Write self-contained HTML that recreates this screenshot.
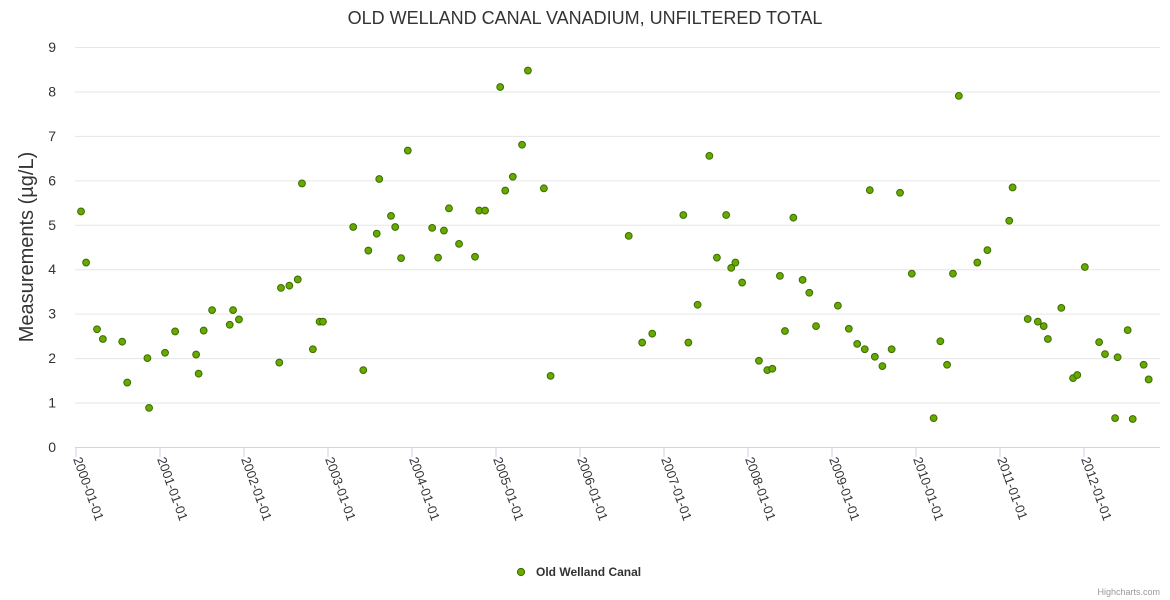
<!DOCTYPE html>
<html><head><meta charset="utf-8">
<style>
html,body{margin:0;padding:0;background:#fff;}
svg{display:block;font-family:"Liberation Sans",sans-serif;}
</style></head>
<body>
<svg id="chart" width="1170" height="600" viewBox="0 0 1170 600">
<text x="585" y="24" text-anchor="middle" font-size="18" fill="#333">OLD WELLAND CANAL VANADIUM, UNFILTERED TOTAL</text>
<g id="grid"></g>
<g id="xaxis"></g>
<g id="yaxis"></g>
<text transform="translate(33,247) rotate(-90)" text-anchor="middle" font-size="20" fill="#333">Measurements (µg/L)</text>
<g id="points"></g>
<g>
<circle cx="521" cy="572" r="3.6" fill="#66aa00" stroke="#3d6b00" stroke-width="1"></circle>
<text x="536" y="576" font-size="12" font-weight="bold" fill="#333">Old Welland Canal</text>
</g>
<text x="1160" y="595" text-anchor="end" font-size="9" fill="#999">Highcharts.com</text>
</svg>
<script>
const dates = [2000.06,2000.12,2000.25,2000.32,2000.55,2000.61,2000.85,2000.87,2001.06,2001.18,2001.43,2001.46,2001.52,2001.62,2001.83,2001.87,2001.94,2002.42,2002.44,2002.54,2002.64,2002.69,2002.82,2002.90,2002.94,2003.30,2003.42,2003.48,2003.58,2003.61,2003.75,2003.80,2003.87,2003.95,2004.24,2004.31,2004.38,2004.44,2004.56,2004.75,2004.80,2004.87,2005.05,2005.11,2005.20,2005.31,2005.38,2005.57,2005.65,2006.58,2006.74,2006.86,2007.23,2007.29,2007.40,2007.54,2007.63,2007.74,2007.80,2007.85,2007.93,2008.13,2008.23,2008.29,2008.38,2008.44,2008.54,2008.65,2008.73,2008.81,2009.07,2009.20,2009.30,2009.39,2009.45,2009.51,2009.60,2009.71,2009.81,2009.95,2010.21,2010.29,2010.37,2010.44,2010.51,2010.73,2010.85,2011.11,2011.15,2011.33,2011.45,2011.52,2011.57,2011.73,2011.87,2011.92,2012.01,2012.18,2012.25,2012.37,2012.40,2012.52,2012.58,2012.71,2012.77];
const values = [5.3,4.15,2.65,2.43,2.37,1.45,2.0,0.88,2.12,2.6,2.08,1.65,2.62,3.08,2.75,3.08,2.87,1.9,3.58,3.63,3.77,5.93,2.2,2.82,2.82,4.95,1.73,4.42,4.8,6.03,5.2,4.95,4.25,6.67,4.93,4.26,4.87,5.37,4.57,4.28,5.32,5.32,8.1,5.77,6.08,6.8,8.47,5.82,1.6,4.75,2.35,2.55,5.22,2.35,3.2,6.55,4.26,5.22,4.03,4.15,3.7,1.94,1.73,1.76,3.85,2.61,5.16,3.76,3.47,2.72,3.18,2.66,2.32,2.2,5.78,2.03,1.82,2.2,5.72,3.9,0.65,2.38,1.85,3.9,7.9,4.15,4.43,5.09,5.84,2.88,2.82,2.72,2.43,3.13,1.55,1.62,4.05,2.36,2.09,0.65,2.02,2.63,0.63,1.85,1.52];
const yTicks = [0,1,2,3,4,5,6,7,8,9];
const xTickYears = [2000,2001,2002,2003,2004,2005,2006,2007,2008,2009,2010,2011,2012];
const xTickLabels = ["2000-01-01","2001-01-01","2002-01-01","2003-01-01","2004-01-01","2005-01-01","2006-01-01","2007-01-01","2008-01-01","2009-01-01","2010-01-01","2011-01-01","2012-01-01"];

const NS="http://www.w3.org/2000/svg";
const L=75,R=1160,T=47,B=447;
const xs=y=>76+(y-2000)*84;
const ys=v=>B-(v/9)*(B-T);
function mk(t,a,p){const e=document.createElementNS(NS,t);for(const k in a)e.setAttribute(k,a[k]);p.appendChild(e);return e;}
const grid=document.getElementById('grid'),xa=document.getElementById('xaxis'),ya=document.getElementById('yaxis'),pts=document.getElementById('points');
yTicks.forEach(v=>{
  if(v>0){const g=mk('line',{x1:L,x2:R,y1:ys(v)+0.5,y2:ys(v)+0.5,stroke:'#e6e6e6'},grid);
  
  }
  const t=mk('text',{x:56,y:ys(v)+5,'text-anchor':'end','font-size':14,fill:'#333'},ya);
  t.textContent=v;
  
  
});
const al=mk('line',{x1:L,x2:R,y1:B+0.5,y2:B+0.5,stroke:'#ccd6eb'},xa);


xTickYears.forEach((yr,i)=>{
  const x=xs(yr);
  const tk=mk('line',{x1:x,x2:x,y1:B,y2:B+10,stroke:'#ccd6eb'},xa);
  
  
  const t=mk('text',{transform:`translate(${x-3},${B+12}) rotate(70)`,'font-size':13,fill:'#333'},xa);
  t.textContent=xTickLabels[i];
  
  
});
dates.forEach((d,i)=>{
  const c=mk('circle',{cx:xs(d),cy:ys(values[i]),r:3.4,fill:'#66aa00',stroke:'#3d6b00','stroke-width':1},pts);
  
  
});
</script>
</body></html>
